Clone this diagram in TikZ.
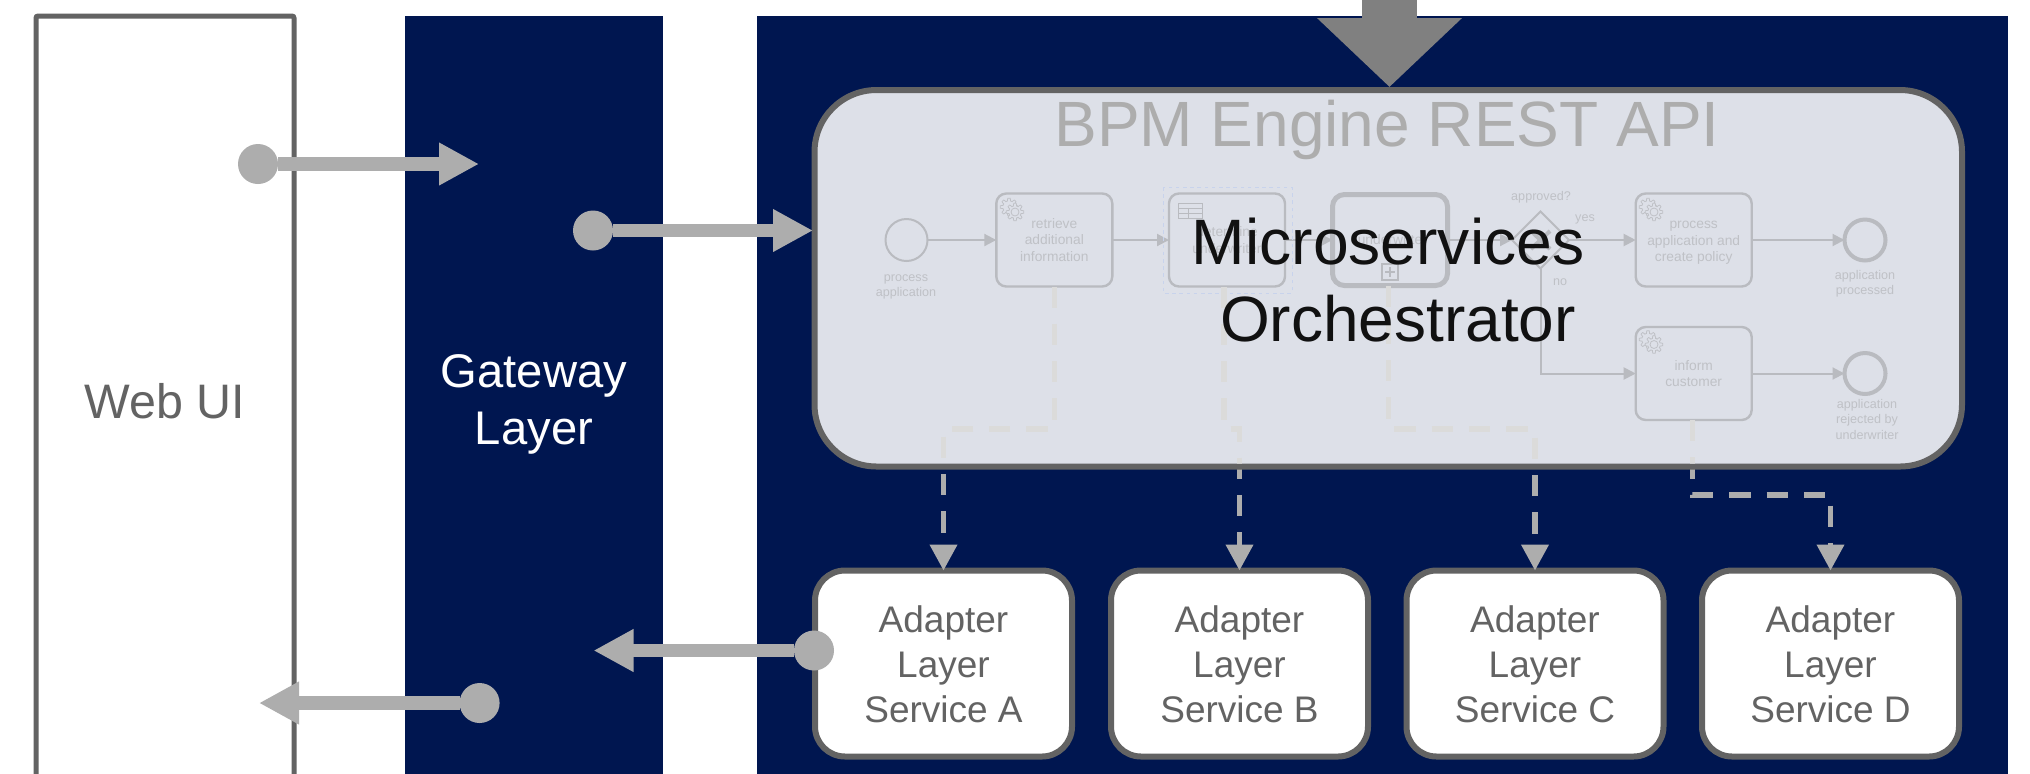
\documentclass[tikz,border=0pt]{standalone}
\usepackage{fontspec}
\setmainfont{Liberation Sans}
\usetikzlibrary{arrows.meta,shapes.geometric}
\pgfdeclarelayer{panels}
\pgfdeclarelayer{conn}
\pgfsetlayers{panels,conn,main}
\definecolor{navy}{HTML}{001650}
\definecolor{edgegray}{HTML}{636363}
\definecolor{boxfill}{HTML}{DDE0E8}
\definecolor{arrowgray}{HTML}{ADADAD}
\definecolor{palegray}{HTML}{DBDBDA}
\definecolor{bpmnline}{HTML}{B9BBC0}
\definecolor{gearline}{HTML}{BFC1C6}
\definecolor{bpmntext}{HTML}{BFC1C6}
\definecolor{selblue}{HTML}{C8D3EC}
\definecolor{inkblack}{HTML}{111111}
\definecolor{toparrow}{HTML}{808080}
\tikzset{
  every node/.style={inner sep=0pt,outer sep=0pt},
  panelbox/.style={fill=navy},
  adapter/.style={draw=edgegray,fill=white,line width=3pt,rounded corners=15pt,minimum width=128.5pt,minimum height=93pt,align=center,text=edgegray,font=\fontsize{18.5}{22.5}\selectfont},
  dotn/.style={circle,fill=arrowgray,minimum size=20pt},
  bigarrow/.style={draw=arrowgray,line width=6.75pt,-{Triangle[length=20pt,width=20pt,fill=arrowgray]}},
  dashconn/.style={line width=2.65pt,dash pattern=on 10.65pt off 8pt},
  dashtip/.style={-{Triangle[length=13pt,width=13.3pt,fill=arrowgray]}},
  bpmntask/.style={draw=bpmnline,line width=1.2pt,rounded corners=5pt,minimum width=58pt,minimum height=46.5pt,align=center,text=bpmntext,font=\fontsize{6.9}{8.25}\selectfont},
  startev/.style={circle,draw=bpmnline,line width=1pt,minimum size=21pt},
  endev/.style={circle,draw=bpmnline,line width=2pt,minimum size=20.5pt},
  bpmnlabel/.style={align=center,text=bpmntext,font=\fontsize{6.3}{7.75}\selectfont},
  flow/.style={draw=bpmnline,line width=1pt,-{Triangle[length=6pt,width=6pt,fill=bpmnline]}},
  gearicon/.pic={
    \begin{scope}[shift={(-6,-5)}]
      \draw[gearline,line width=.4pt] plot[domain=0:360,samples=97] (\x:{7.5+1.3*sign(cos(8*\x))}) -- cycle;
    \end{scope}
    \draw[gearline,line width=.4pt,fill=boxfill] plot[domain=0:360,samples=97] (\x:{7.5+1.3*sign(cos(8*\x))}) -- cycle;
    \draw[gearline,line width=.4pt] (0,0) circle[radius=4];
  }
}
\begin{document}
\begin{tikzpicture}[x=0.5pt,y=-0.5pt]
\useasboundingbox (0,0) rectangle (2030,773);
\clip (0,0) rectangle (2030,773);
\begin{pgfonlayer}{panels}
  \fill[white] (0,0) rectangle (2030,773);
  \node[draw=edgegray,line width=2.5pt,rounded corners=1pt,fill=white,minimum width=129pt,minimum height=385pt,text=edgegray,font=\fontsize{24.2}{28.5}\selectfont] (webui) at (165,401) {Web UI};
  \node[panelbox,minimum width=129pt,minimum height=388.7pt,align=center,text=white,font=\fontsize{23.6}{28.5}\selectfont] (gateway) at (534,404.7) {Gateway\\Layer};
  \node[panelbox,minimum width=625.5pt,minimum height=390pt] (mainpanel) at (1382.5,406) {};
  \node[adapter] (adA) at (943.5,663.5) {\rule{0pt}{14.5pt}Adapter\\Layer\\Service A};
  \node[adapter] (adB) at (1239.5,663.5) {\rule{0pt}{14.5pt}Adapter\\Layer\\Service B};
  \node[adapter] (adC) at (1535,663.5) {\rule{0pt}{14.5pt}Adapter\\Layer\\Service C};
  \node[adapter] (adD) at (1830.5,663.5) {\rule{0pt}{14.5pt}Adapter\\Layer\\Service D};
\end{pgfonlayer}

% orchestrator box
\node[draw=edgegray,fill=boxfill,line width=3pt,rounded corners=31pt,minimum width=573.75pt,minimum height=188.25pt] (orch) at (1388.25,278.25) {};
\node[anchor=base,text=arrowgray,font=\fontsize{32}{36}\selectfont] (bpmtitle) at (1387,146) {BPM Engine REST API};

% process model
\node[startev] (start) at (906.5,240) {};
\node[bpmnlabel] (startlabel) at (906,287) {process\\application};
\node[bpmntask] (t1) at (1054.3,240) {retrieve\\additional\\information};
\node[bpmntask] (t2) at (1227,240) {determine\\underwriter};
\node[draw=bpmnline,line width=2.5pt,rounded corners=6pt,minimum width=57.5pt,minimum height=45.5pt,align=center,text=bpmntext,font=\fontsize{6.9}{8.25}\selectfont] (t3) at (1390,240) {underwrite};
\node[diamond,draw=bpmnline,line width=1pt,minimum width=28.5pt,minimum height=28.5pt] (gw) at (1540.5,240) {};
\node[bpmntask] (t4) at (1693.7,240) {\rule{0pt}{5pt}process\\application and\\\smash{create policy}};
\node[bpmntask] (t5) at (1693.7,373.5) {inform\\customer};
\node[endev] (end1) at (1865,240) {};
\node[endev] (end2) at (1865,373.5) {};
\node[bpmnlabel] (gwlabel) at (1541,197) {approved?};
\node[bpmnlabel] (yeslabel) at (1585,219) {yes};
\node[bpmnlabel] (nolabel) at (1560,282) {no};
\node[bpmnlabel] (end1label) at (1865,283.5) {application\\processed};
\node[bpmnlabel] (end2label) at (1867,419) {application\\rejected by\\underwriter};

\draw[flow] (start) -- (t1);
\draw[flow] (t1) -- (t2);
\draw[flow] (t2) -- (t3);
\draw[flow] (t3) -- (gw);
\draw[flow] (gw) -- (t4);
\draw[flow] (t4) -- (end1);
\draw[flow] (t5) -- (end2);
\draw[flow] (gw) |- (t5);

\pic at (1015,212) {gearicon};
\pic at (1654,212) {gearicon};
\pic at (1654,344.5) {gearicon};

\draw[selblue,line width=.5pt,dash pattern=on 1.8pt off 1.8pt] (1163,187) rectangle (1292,293);
\draw[bpmnline,line width=.5pt] (1178.5,203) rectangle (1202,218) (1178.5,208) -- (1202,208) (1178.5,213) -- (1202,213) (1188,208) -- (1188,218);
\draw[bpmnline,line width=.6pt] (1382,264) rectangle (1398,280) (1385,272) -- (1395,272) (1390,267) -- (1390,277);
\draw[bpmnline,line width=2pt] (1531,231) -- (1550,249) (1531,249) -- (1550,231);

% dashed connectors
\coordinate (lane) at (0,429);
\coordinate (laneD) at (0,495);
\coordinate (s2) at ([xshift=-1.5pt]t2.south);
\coordinate (s3) at ([xshift=-.65pt]t3.south);
\coordinate (s5) at ([xshift=-.7pt]t5.south);
\begin{pgfonlayer}{conn}
  \draw[arrowgray,dashconn,dashtip] (t1.south) -- (t1.south |- lane) -| (adA.north);
  \draw[arrowgray,dashconn,dashtip] (s2) -- (s2 |- lane) -| (adB.north);
  \draw[arrowgray,dashconn,dashtip] (s3) -- (s3 |- lane) -| (adC.north);
  \draw[arrowgray,dashconn,dashtip] (s5) -- (s5 |- laneD) -| (adD.north);
\end{pgfonlayer}
\begin{scope}
  \clip[rounded corners=29.5pt] (817.5,93) rectangle (1959,463.5);
  \draw[palegray,dashconn] (t1.south) -- (t1.south |- lane) -| (adA.north);
  \draw[palegray,dashconn] (s2) -- (s2 |- lane) -| (adB.north);
  \draw[palegray,dashconn] (s3) -- (s3 |- lane) -| (adC.north);
  \draw[palegray,dashconn] (s5) -- (s5 |- laneD) -| (adD.north);
\end{scope}

% title text
\node[anchor=base,text=inkblack,font=\fontsize{32.1}{38}\selectfont] (micro) at (1388,264) {Microservices};
\node[anchor=base,text=inkblack,font=\fontsize{32}{38}\selectfont] (orchestrator) at (1398,341) {Orchestrator};

% gateway arrows
\node[dotn] (d1) at (258,164) {};
\coordinate (e1) at (479,164);
\draw[bigarrow] (d1) -- (e1);
\node[dotn] (d2) at (593,230.5) {};
\coordinate (e2) at (813,230.5);
\draw[bigarrow] (d2) -- (e2);
\node[dotn] (d3) at (814,650.5) {};
\coordinate (e3) at (593.5,650.5);
\draw[bigarrow] (d3) -- (e3);
\node[dotn] (d4) at (479.6,703) {};
\coordinate (e4) at (259,703);
\draw[bigarrow] (d4) -- (e4);

% top arrow
\coordinate (topin) at (1389.5,-5);
\coordinate (toptip) at (1389.5,87);
\draw[toparrow,line width=27.5pt,-{Triangle[length=34.5pt,width=70.5pt,fill=toparrow]}] (topin) -- (toptip);
\end{tikzpicture}
\end{document}
